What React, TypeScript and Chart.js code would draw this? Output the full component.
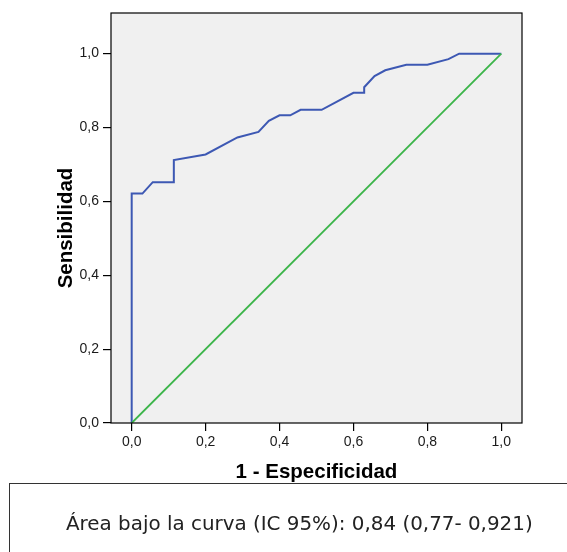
import { useEffect, useRef } from "react"
import { Chart, registerables } from "chart.js"

Chart.register(...registerables)

// curva ROC
const fpr = [0, 0, 0.029, 0.057, 0.114, 0.114, 0.2, 0.286, 0.343, 0.371, 0.4, 0.429, 0.457, 0.514, 0.6, 0.629, 0.629, 0.657, 0.686, 0.743, 0.8, 0.857, 0.886, 1.0]
const tpr = [0, 0.621, 0.621, 0.652, 0.652, 0.712, 0.727, 0.773, 0.788, 0.818, 0.833, 0.833, 0.848, 0.848, 0.894, 0.894, 0.909, 0.939, 0.955, 0.97, 0.97, 0.985, 1.0, 1.0]

// línea de referencia
const refX = [0, 1]
const refY = [0, 1]

const tickValues = [0, 0.2, 0.4, 0.6, 0.8, 1.0]

const xTitle = "1 - Especificidad"
const yTitle = "Sensibilidad"
const aucText = "Área bajo la curva (IC 95%): 0,84 (0,77- 0,921)"

const fmt = (v: number | string) => Number(v).toFixed(1).replace(".", ",")

const frame = {
  id: "frame",
  beforeDatasetsDraw(chart: Chart) {
    const { ctx, chartArea: a } = chart
    ctx.save()
    ctx.fillStyle = "#f0f0f0"
    ctx.fillRect(a.left, a.top, a.right - a.left, a.bottom - a.top)
    ctx.restore()
  },
  afterDraw(chart: Chart) {
    const { ctx, chartArea: a } = chart
    ctx.save()
    ctx.strokeStyle = "#000"
    ctx.lineWidth = 1.2
    ctx.strokeRect(a.left, a.top, a.right - a.left, a.bottom - a.top)

    ctx.fillStyle = "#000"
    ctx.font = "bold 20.5px 'Liberation Sans', Arial, sans-serif"
    ctx.textAlign = "center"
    ctx.textBaseline = "alphabetic"
    ctx.fillText(xTitle, (a.left + a.right) / 2, 477.5)

    ctx.translate(72, 228)
    ctx.rotate(-Math.PI / 2)
    ctx.fillText(yTitle, 0, 0)
    ctx.restore()
  },
}

function RocChart() {
  const chartRef = useRef<HTMLCanvasElement>(null)
  const chartInstance = useRef<Chart | null>(null)

  useEffect(() => {
    if (!chartRef.current) return
    if (chartInstance.current) chartInstance.current.destroy()
    const ctx = chartRef.current.getContext("2d")
    if (!ctx) return

    const tickFont = { family: "'Liberation Sans', Arial, sans-serif", size: 14 }

    chartInstance.current = new Chart(ctx, {
      type: "scatter",
      data: {
        datasets: [
          {
            label: "Referencia",
            data: refX.map((x, i) => ({ x, y: refY[i] })),
            showLine: true,
            borderColor: "#3cb54a",
            borderWidth: 1.8,
            pointRadius: 0,
          },
          {
            label: "ROC",
            data: fpr.map((x, i) => ({ x, y: tpr[i] })),
            showLine: true,
            borderColor: "#3d58b3",
            borderWidth: 2,
            pointRadius: 0,
            tension: 0,
          },
        ],
      },
      options: {
        responsive: false,
        animation: false,
        layout: { padding: { top: 13, right: 45, left: 0, bottom: 0 } },
        plugins: {
          legend: { display: false },
          tooltip: { enabled: false },
        },
        scales: {
          x: {
            type: "linear",
            min: -0.056,
            max: 1.056,
            afterBuildTicks: (s) => {
              s.ticks = tickValues.map((value) => ({ value }))
            },
            afterFit: (s) => {
              s.height = 61
            },
            grid: { display: true, drawOnChartArea: false, drawTicks: true, tickLength: 8, color: "#000", lineWidth: 1.2 },
            border: { display: false },
            ticks: { color: "#1a1a1a", font: tickFont, padding: 3, maxRotation: 0, callback: fmt },
          },
          y: {
            type: "linear",
            min: 0,
            max: 1.11,
            afterBuildTicks: (s) => {
              s.ticks = tickValues.map((value) => ({ value }))
            },
            afterFit: (s) => {
              s.width = 111
            },
            grid: { display: true, drawOnChartArea: false, drawTicks: true, tickLength: 8, color: "#000", lineWidth: 1.2 },
            border: { display: false },
            ticks: { color: "#1a1a1a", font: tickFont, padding: 4, callback: fmt },
          },
        },
      },
      plugins: [frame],
    })

    return () => {
      if (chartInstance.current) {
        chartInstance.current.destroy()
        chartInstance.current = null
      }
    }
  }, [])

  return <canvas ref={chartRef} width={567} height={484} style={{ width: 567, height: 484, display: "block" }} />
}

export default function App() {
  return (
    <div style={{ position: "fixed", left: 0, top: 0, width: 567, height: 552, overflow: "hidden", background: "#fff" }}>
      <div style={{ position: "absolute", left: 0, top: 0 }}>
        <RocChart />
      </div>
      <div
        style={{
          position: "absolute",
          left: 9,
          top: 483,
          width: 700,
          height: 200,
          borderTop: "1px solid #333",
          borderLeft: "1px solid #333",
          boxSizing: "border-box",
        }}
      >
        <div
          style={{
            position: "absolute",
            left: 56,
            top: 30,
            whiteSpace: "nowrap",
            fontFamily: "'DejaVu Sans', Verdana, sans-serif",
            fontSize: 19.9,
            lineHeight: "20px",
            color: "#222",
          }}
        >
          {aucText}
        </div>
      </div>
    </div>
  )
}
